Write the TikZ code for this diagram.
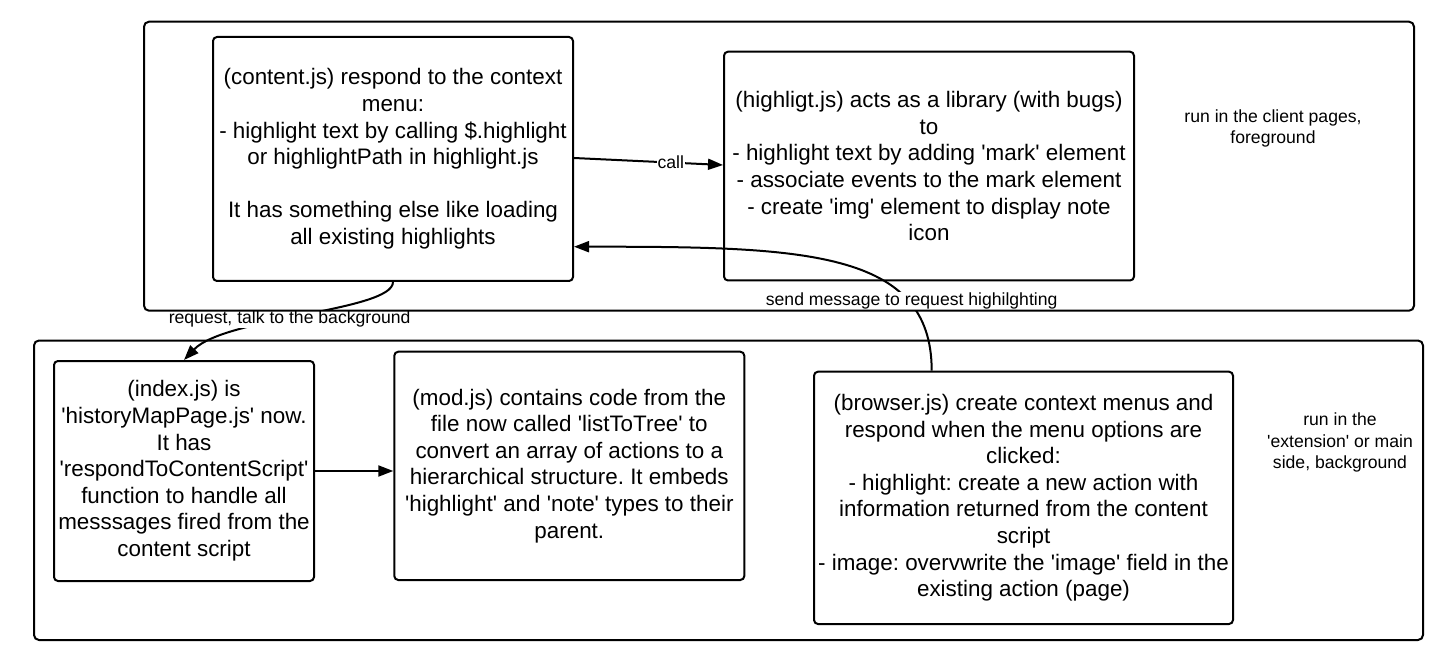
\documentclass[tikz,border=0pt]{standalone}
\usepackage{fontspec}
\setmainfont{Liberation Sans}
\usetikzlibrary{arrows.meta}
\newcommand{\sq}{\textquotesingle}
\begin{document}
\frenchspacing
\begin{tikzpicture}[x=1pt,y=-1pt,
  box/.style={draw, line width=2pt, rounded corners=4pt, align=center, inner sep=0pt,
    font=\fontsize{22.4}{26.6}\selectfont},
  region/.style={draw, line width=2pt, rounded corners=5pt, inner sep=0pt},
  conn/.style={line width=2pt, -{Triangle[length=15pt,width=11pt]}},
  lbl/.style={fill=white, inner sep=0.5pt, font=\fontsize{17.6}{20.5}\selectfont},
  note/.style={align=center, inner sep=0pt, font=\fontsize{17.6}{21.5}\selectfont}]
\useasboundingbox (0,0) rectangle (1443,652);

% boxes
\node[box, minimum width=360pt, minimum height=244pt] (ct) at (393,159)
 {(content.js) respond to the context\\menu:\\- highlight text by calling \$.highlight\\or highlightPath in highlight.js\\[26.6pt]It has something else like loading\\all existing highlights};
\node[box, minimum width=410pt, minimum height=228.8pt] (hl) at (929,166.1)
 {(highligt.js) acts as a library (with bugs)\\to\\- highlight text by adding \sq mark\sq{} element\\- associate events to the mark element\\- create \sq img\sq{} element to display note\\icon};
\node[box, minimum width=260pt, minimum height=220pt] (idx) at (184,471)
 {(index.js) is\\\sq historyMapPage.js\sq{} now.\\It has\\\sq respondToContentScript\sq\\function to handle all\\messsages fired from the\\content script};
\node[box, minimum width=350pt, minimum height=228.3pt] (md) at (569.3,465.85)
 {(mod.js) contains code from the\\file now called \sq listToTree\sq{} to\\convert an array of actions to a\\hierarchical structure. It embeds\\\sq highlight\sq{} and \sq note\sq{} types to their\\parent.};
\node[box, minimum width=419pt, minimum height=252.3pt] (br) at (1023.5,497.85)
 {(browser.js) create context menus and\\respond when the menu options are\\clicked:\\- highlight: create a new action with\\information returned from the content\\script\\- image: overvwrite the \sq image\sq{} field in the\\existing action (page)};

% region notes
\node[note] (fg) at (1273,128.5) {run in the client pages,\\foreground};
\node[note] (bg) at (1340,442.5) {run in the\\\sq extension\sq{} or main\\side, background};

% connectors
\draw[conn] ([yshift=1pt]ct.east) -- node[lbl, pos=0.65] {call} ([yshift=1.1pt]hl.west);
\draw[conn] (ct.south) .. controls +(0,29) and +(41,-43) ..
  node[lbl, pos=0.55] {request, talk to the background} (idx.north);
\draw[conn] ([xshift=-91.8pt]br.north) .. controls +(0,-121.7) and +(227,0) ..
  node[lbl, pos=0.245, xshift=3pt] {send message to request highilghting} ([yshift=-87.7pt]ct.east);
\draw[conn] (idx.east) -- (idx.east -| md.west);

% regions
\node[region, minimum width=1270pt, minimum height=289pt] (top) at (779,166.2) {};
\node[region, minimum width=1389pt, minimum height=299.5pt] (bot) at (728.5,490.25) {};
\end{tikzpicture}
\end{document}
